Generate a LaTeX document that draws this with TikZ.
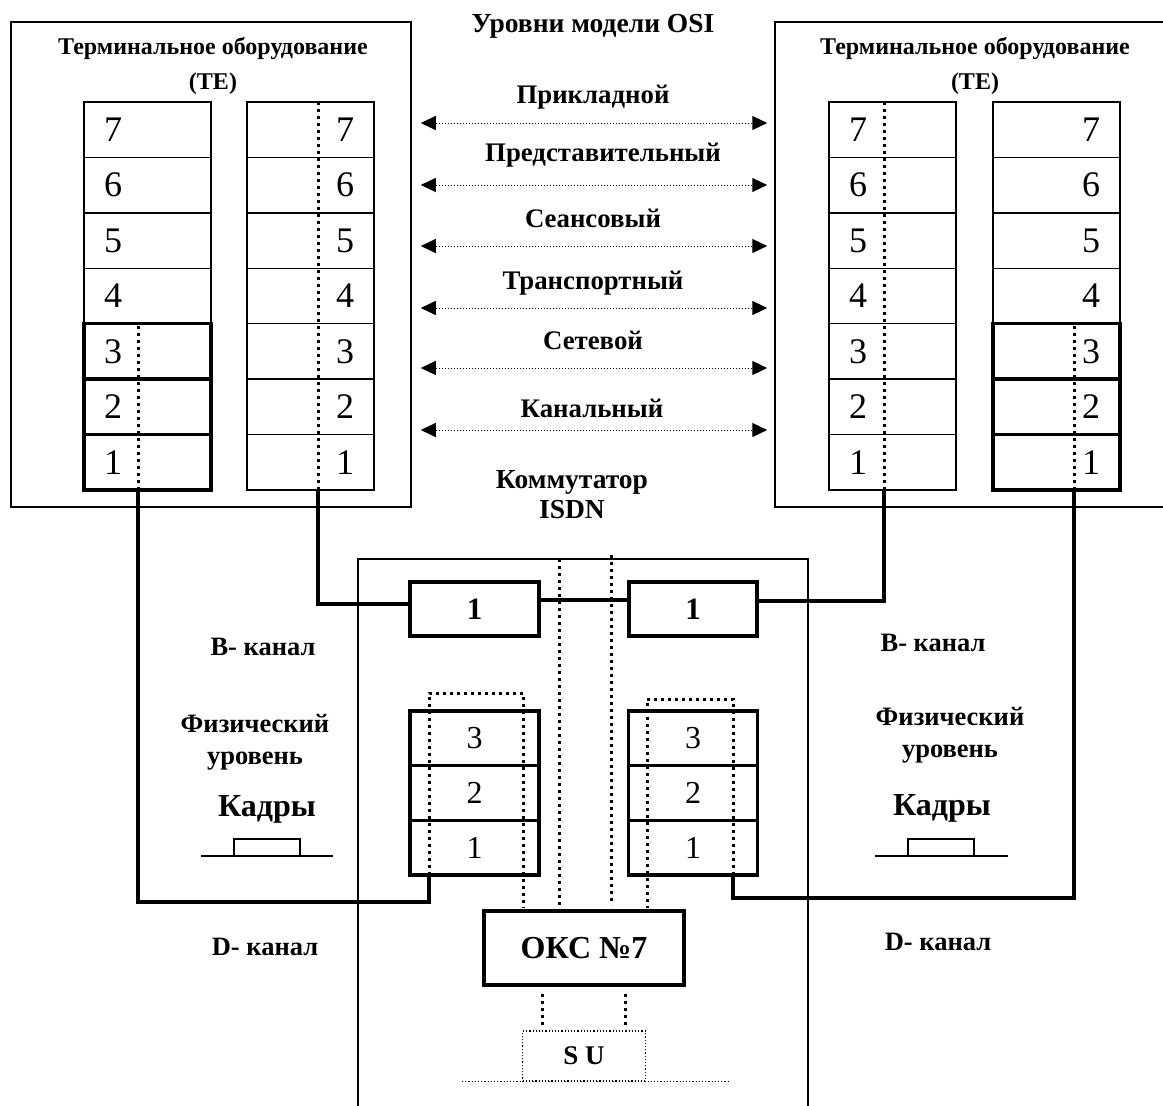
\documentclass[tikz,border=0pt]{standalone}
\usepackage{fontspec}
\setmainfont{Liberation Serif}
\usetikzlibrary{arrows.meta}

\begin{document}
\begin{tikzpicture}[x=1pt,y=-1pt,
  frame/.style={draw, line width=1.5pt, inner sep=0pt},
  cellL/.style={draw, line width=1.5pt, minimum height=55.43pt, text width=87pt, inner xsep=20pt, inner ysep=0pt, align=left, font=\fontsize{36}{36}\selectfont},
  cellR/.style={cellL, align=right},
  heavy/.style={line width=3.6pt},
  lowcell/.style={draw, heavy, minimum width=129pt, minimum height=54.7pt, inner sep=0pt, font=\fontsize{32}{32}\selectfont},
  wire/.style={line width=3.4pt},
  dots/.style={line width=3pt, dash pattern=on 3pt off 4pt},
  thindots/.style={line width=1.2pt, dash pattern=on 1.2pt off 2pt},
  osiarrow/.style={line width=1pt, dash pattern=on 1pt off 2pt, {Triangle[length=15pt,width=14pt]}-{Triangle[length=15pt,width=14pt]}, shorten <=9pt, shorten >=7pt},
  lbl/.style={font=\bfseries\fontsize{26.5}{32}\selectfont, align=center},
  osilbl/.style={font=\bfseries\fontsize{26.8}{30}\selectfont},
  tetitle/.style={font=\bfseries\fontsize{24}{35}\selectfont, align=center}]
\useasboundingbox (0,0) rectangle (1163,1106);

% terminal equipment frames
\node[frame, minimum width=400pt, minimum height=485pt] (teL) at (211,264.5) {};
\node[frame, minimum width=395pt, minimum height=485pt] (teR) at (972.5,264.5) {};
\node[tetitle] (titL) at (213,66) {Терминальное оборудование\\(TE)};
\node[tetitle] (titR) at (975,66) {Терминальное оборудование\\(TE)};

% stack A
\node[cellL] (a7) at (147.5,129.7) {7};
\node[cellL] (a6) at (147.5,185.1) {6};
\node[cellL] (a5) at (147.5,240.6) {5};
\node[cellL] (a4) at (147.5,296.0) {4};
\node[cellL, heavy] (a3) at (147.5,351.4) {3};
\node[cellL, heavy] (a2) at (147.5,406.9) {2};
\node[cellL, heavy] (a1) at (147.5,462.3) {1};
% stack B
\node[cellR] (b7) at (310.5,129.7) {7};
\node[cellR] (b6) at (310.5,185.1) {6};
\node[cellR] (b5) at (310.5,240.6) {5};
\node[cellR] (b4) at (310.5,296.0) {4};
\node[cellR] (b3) at (310.5,351.4) {3};
\node[cellR] (b2) at (310.5,406.9) {2};
\node[cellR] (b1) at (310.5,462.3) {1};
% stack C
\node[cellL] (c7) at (892.5,129.7) {7};
\node[cellL] (c6) at (892.5,185.1) {6};
\node[cellL] (c5) at (892.5,240.6) {5};
\node[cellL] (c4) at (892.5,296.0) {4};
\node[cellL] (c3) at (892.5,351.4) {3};
\node[cellL] (c2) at (892.5,406.9) {2};
\node[cellL] (c1) at (892.5,462.3) {1};
% stack D
\node[cellR] (d7) at (1056.5,129.7) {7};
\node[cellR] (d6) at (1056.5,185.1) {6};
\node[cellR] (d5) at (1056.5,240.6) {5};
\node[cellR] (d4) at (1056.5,296.0) {4};
\node[cellR, heavy] (d3) at (1056.5,351.4) {3};
\node[cellR, heavy] (d2) at (1056.5,406.9) {2};
\node[cellR, heavy] (d1) at (1056.5,462.3) {1};

\coordinate (ta) at (138,490);
\coordinate (tb) at (318,490);
\coordinate (tc) at (884,490);
\coordinate (td) at (1074,490);
\draw[dots] (ta) -- (ta |- a3.north);
\draw[dots] (tb) -- (tb |- b7.north);
\draw[dots] (tc) -- (tc |- c7.north);
\draw[dots] (td) -- (td |- d3.north);

% OSI layers
\node[osilbl, font=\bfseries\fontsize{27.5}{30}\selectfont] (osi) at (593,26) {Уровни модели OSI};
\node[osilbl] (lay7) at (593,97) {Прикладной};
\node[osilbl] (lay6) at (603,155) {Представительный};
\node[osilbl] (lay5) at (593,218) {Сеансовый};
\node[osilbl] (lay4) at (593,283) {Транспортный};
\node[osilbl] (lay3) at (593,340) {Сетевой};
\node[osilbl] (lay2) at (592,408) {Канальный};
\coordinate (ar7) at (594,123);
\coordinate (ar6) at (594,185);
\coordinate (ar5) at (594,246);
\coordinate (ar4) at (594,308);
\coordinate (ar3) at (594,368);
\coordinate (ar2) at (594,430);
\draw[osiarrow] (teL.east |- ar7) -- (teR.west |- ar7);
\draw[osiarrow] (teL.east |- ar6) -- (teR.west |- ar6);
\draw[osiarrow] (teL.east |- ar5) -- (teR.west |- ar5);
\draw[osiarrow] (teL.east |- ar4) -- (teR.west |- ar4);
\draw[osiarrow] (teL.east |- ar3) -- (teR.west |- ar3);
\draw[osiarrow] (teL.east |- ar2) -- (teR.west |- ar2);

% ISDN switch
\node[osilbl, align=center, font=\bfseries\fontsize{27.5}{30}\selectfont] (sw) at (572,495) {Коммутатор\\ISDN};
\draw[line width=1.5pt] (358,1110) -- (358,559) -- (808,559) -- (808,1110);
\node[draw, heavy, minimum width=129pt, minimum height=54pt, font=\bfseries\fontsize{31}{31}\selectfont] (bl) at (474.5,609) {1};
\node[draw, heavy, minimum width=128pt, minimum height=54pt, font=\bfseries\fontsize{31}{31}\selectfont] (br) at (693,609) {1};
\node[lowcell] (l3) at (474.5,738.3) {3};
\node[lowcell] (l2) at (474.5,793.0) {2};
\node[lowcell] (l1) at (474.5,847.7) {1};
\node[lowcell] (r3) at (693,738.3) {3};
\node[lowcell] (r2) at (693,793.0) {2};
\node[lowcell] (r1) at (693,847.7) {1};
\node[draw, heavy, minimum width=200pt, minimum height=74pt, font=\bfseries\fontsize{32}{32}\selectfont] (oks) at (584,948) {ОКС №7};
\node[draw, thindots, minimum width=123pt, minimum height=50pt, font=\bfseries\fontsize{27}{27}\selectfont] (su) at (584,1056) {S U};
\draw[thindots] ([xshift=-60pt]su.south west) -- ([xshift=82pt]su.south east);

% signalling paths
\draw[dots] (559,559) -- ++(0,349);
\draw[dots] (611,555) -- ++(0,350);
\coordinate (dl) at (429,875);
\coordinate (dr) at (733,875);
\draw[dots] (dl) -- ++(0,-182) -- ++(94,0) -- ++(0,215);
\draw[dots] (dr) -- ++(0,-176) -- ++(-86,0) -- ++(0,209);
\draw[dots, shorten <=7pt, shorten >=5pt] ([xshift=-42pt]oks.south) -- ([xshift=-42pt]su.north);
\draw[dots, shorten <=7pt, shorten >=5pt] ([xshift=41pt]oks.south) -- ([xshift=41pt]su.north);

% B and D channels
\draw[wire] (tb) |- ([yshift=5pt]bl.west);
\draw[wire] ([yshift=9pt]bl.east) -- ([yshift=9pt]br.west);
\draw[wire] ([yshift=8pt]br.east) -| (tc);
\draw[wire] (ta) -- ++(0,412) -| (dl);
\draw[wire] (td) -- ++(0,408) -| (dr);

% side labels
\node[lbl] (bkL) at (263,647) {B- канал};
\node[lbl] (bkR) at (933,643) {B- канал};
\node[lbl] (phL) at (255,742) {Физический\\уровень};
\node[lbl] (phR) at (950,735) {Физический\\уровень};
\node[lbl, font=\bfseries\fontsize{32}{32}\selectfont] (kdL) at (267,809) {Кадры};
\node[lbl, font=\bfseries\fontsize{32}{32}\selectfont] (kdR) at (942,808) {Кадры};
\draw[line width=1.4pt] (201,856) -- (333,856);
\draw[line width=1.4pt] (234,856) rectangle (300,839);
\draw[line width=1.4pt] (875,856) -- (1008,856);
\draw[line width=1.4pt] (908,856) rectangle (974,839);
\node[lbl] (dkL) at (265,947) {D- канал};
\node[lbl] (dkR) at (938,942) {D- канал};
\end{tikzpicture}
\end{document}
